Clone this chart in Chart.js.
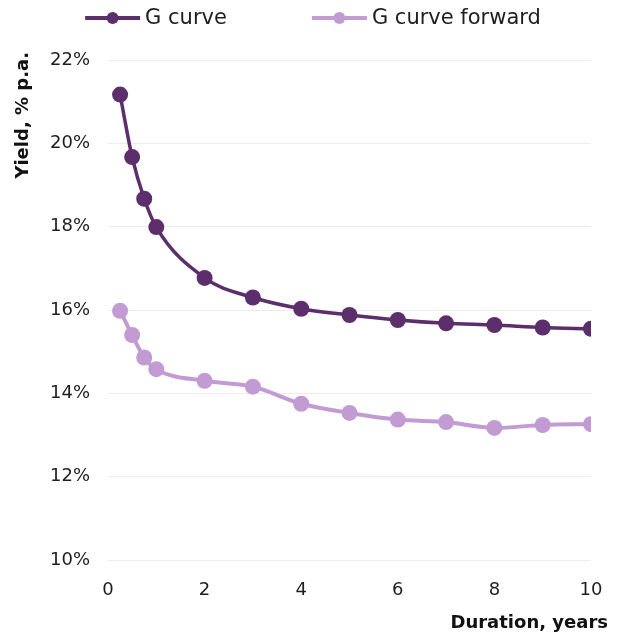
<!DOCTYPE html>
<html>
<head>
<meta charset="utf-8">
<script src="https://cdn.jsdelivr.net/npm/chart.js@4"></script>
<style>
  html, body { margin: 0; padding: 0; background: #ffffff; }
  canvas { display: block; }
</style>
</head>
<body>
<canvas id="chart" width="626" height="635"></canvas>
<script>
// Duration (years) for each point on the curves
const durations = [0.25, 0.5, 0.75, 1, 2, 3, 4, 5, 6, 7, 8, 9, 10];
// Yields, % p.a.
const gCurve = [21.17, 19.67, 18.67, 17.99, 16.77, 16.30, 16.03, 15.88, 15.76, 15.68, 15.64, 15.58, 15.55];
const gCurveForward = [15.98, 15.40, 14.86, 14.58, 14.30, 14.16, 13.75, 13.53, 13.37, 13.31, 13.17, 13.24, 13.26];
const seriesNames = ['G curve', 'G curve forward'];
const xTicks = [0, 2, 4, 6, 8, 10];
const yTicks = [10, 12, 14, 16, 18, 20, 22];
const xTitle = 'Duration, years';
const yTitle = 'Yield, % p.a.';

const DARK = '#5c2e6c';
const LIGHT = '#c39bd3';
const FONT = "'DejaVu Sans', sans-serif";
const TEXT = '#1e1e1e';

const toPoints = (ys) => durations.map((x, i) => ({ x, y: ys[i] }));

const lineStyle = (color, width) => ({
  borderColor: color,
  backgroundColor: color,
  borderWidth: width,
  pointRadius: 8,
  pointHoverRadius: 8,
  pointBorderWidth: 0,
  pointStyle: 'circle',
  cubicInterpolationMode: 'monotone'
});

// Legend (line with a dot) across the top, plus both axis titles
const decorations = {
  id: 'decorations',
  afterDraw(chart) {
    const ctx = chart.ctx;
    const area = chart.chartArea;
    ctx.save();

    // legend
    const legendFont = `21px ${FONT}`;
    ctx.font = legendFont;
    const markerW = 55, markerGap = 5, itemGap = 85, legendY = 18;
    const items = chart.data.datasets.map(ds => ({
      text: ds.label, color: ds.borderColor, w: ctx.measureText(ds.label).width
    }));
    const total = items.reduce((s, it) => s + markerW + markerGap + it.w, 0) + itemGap * (items.length - 1);
    let x = (chart.width - total) / 2;
    items.forEach(it => {
      ctx.strokeStyle = it.color;
      ctx.lineWidth = 4;
      ctx.beginPath();
      ctx.moveTo(x, legendY);
      ctx.lineTo(x + markerW, legendY);
      ctx.stroke();
      ctx.fillStyle = it.color;
      ctx.beginPath();
      ctx.arc(x + markerW / 2, legendY, 6, 0, Math.PI * 2);
      ctx.fill();
      x += markerW + markerGap;
      ctx.fillStyle = TEXT;
      ctx.textBaseline = 'middle';
      ctx.textAlign = 'left';
      ctx.fillText(it.text, x, legendY + 1);
      x += it.w + itemGap;
    });

    // axis titles
    ctx.font = `bold 18px ${FONT}`;
    ctx.fillStyle = '#111111';
    ctx.textAlign = 'right';
    ctx.textBaseline = 'alphabetic';
    ctx.fillText(xTitle, chart.width - 18, area.bottom + 68);

    ctx.translate(28, area.top - 8);
    ctx.rotate(-Math.PI / 2);
    ctx.textAlign = 'right';
    ctx.fillText(yTitle, 0, 0);
    ctx.restore();
  }
};

new Chart(document.getElementById('chart'), {
  type: 'line',
  data: {
    datasets: [
      Object.assign({ label: seriesNames[0], data: toPoints(gCurve) }, lineStyle(DARK, 3.5)),
      Object.assign({ label: seriesNames[1], data: toPoints(gCurveForward) }, lineStyle(LIGHT, 4))
    ]
  },
  plugins: [decorations],
  options: {
    responsive: false,
    animation: false,
    devicePixelRatio: 1,
    layout: { padding: { left: 0, right: 35, top: 60, bottom: 0 } },
    plugins: {
      tooltip: { enabled: false },
      legend: { display: false }
    },
    scales: {
      x: {
        type: 'linear',
        min: 0,
        max: 10,
        afterBuildTicks(axis) { axis.ticks = xTicks.map(v => ({ value: v })); },
        afterFit(axis) { axis.height = 75; },
        grid: { display: false },
        border: { display: false },
        ticks: { font: { family: FONT, size: 18 }, color: TEXT, padding: 12, maxRotation: 0 }
      },
      y: {
        min: 10,
        max: 22,
        afterBuildTicks(axis) { axis.ticks = yTicks.map(v => ({ value: v })); },
        afterFit(axis) { axis.width = 108; },
        grid: { color: '#ececec', lineWidth: 1, drawTicks: false },
        border: { display: false },
        ticks: {
          font: { family: FONT, size: 18 },
          color: TEXT,
          padding: 18,
          callback: (v) => v + '%'
        }
      }
    }
  }
});
</script>
</body>
</html>
